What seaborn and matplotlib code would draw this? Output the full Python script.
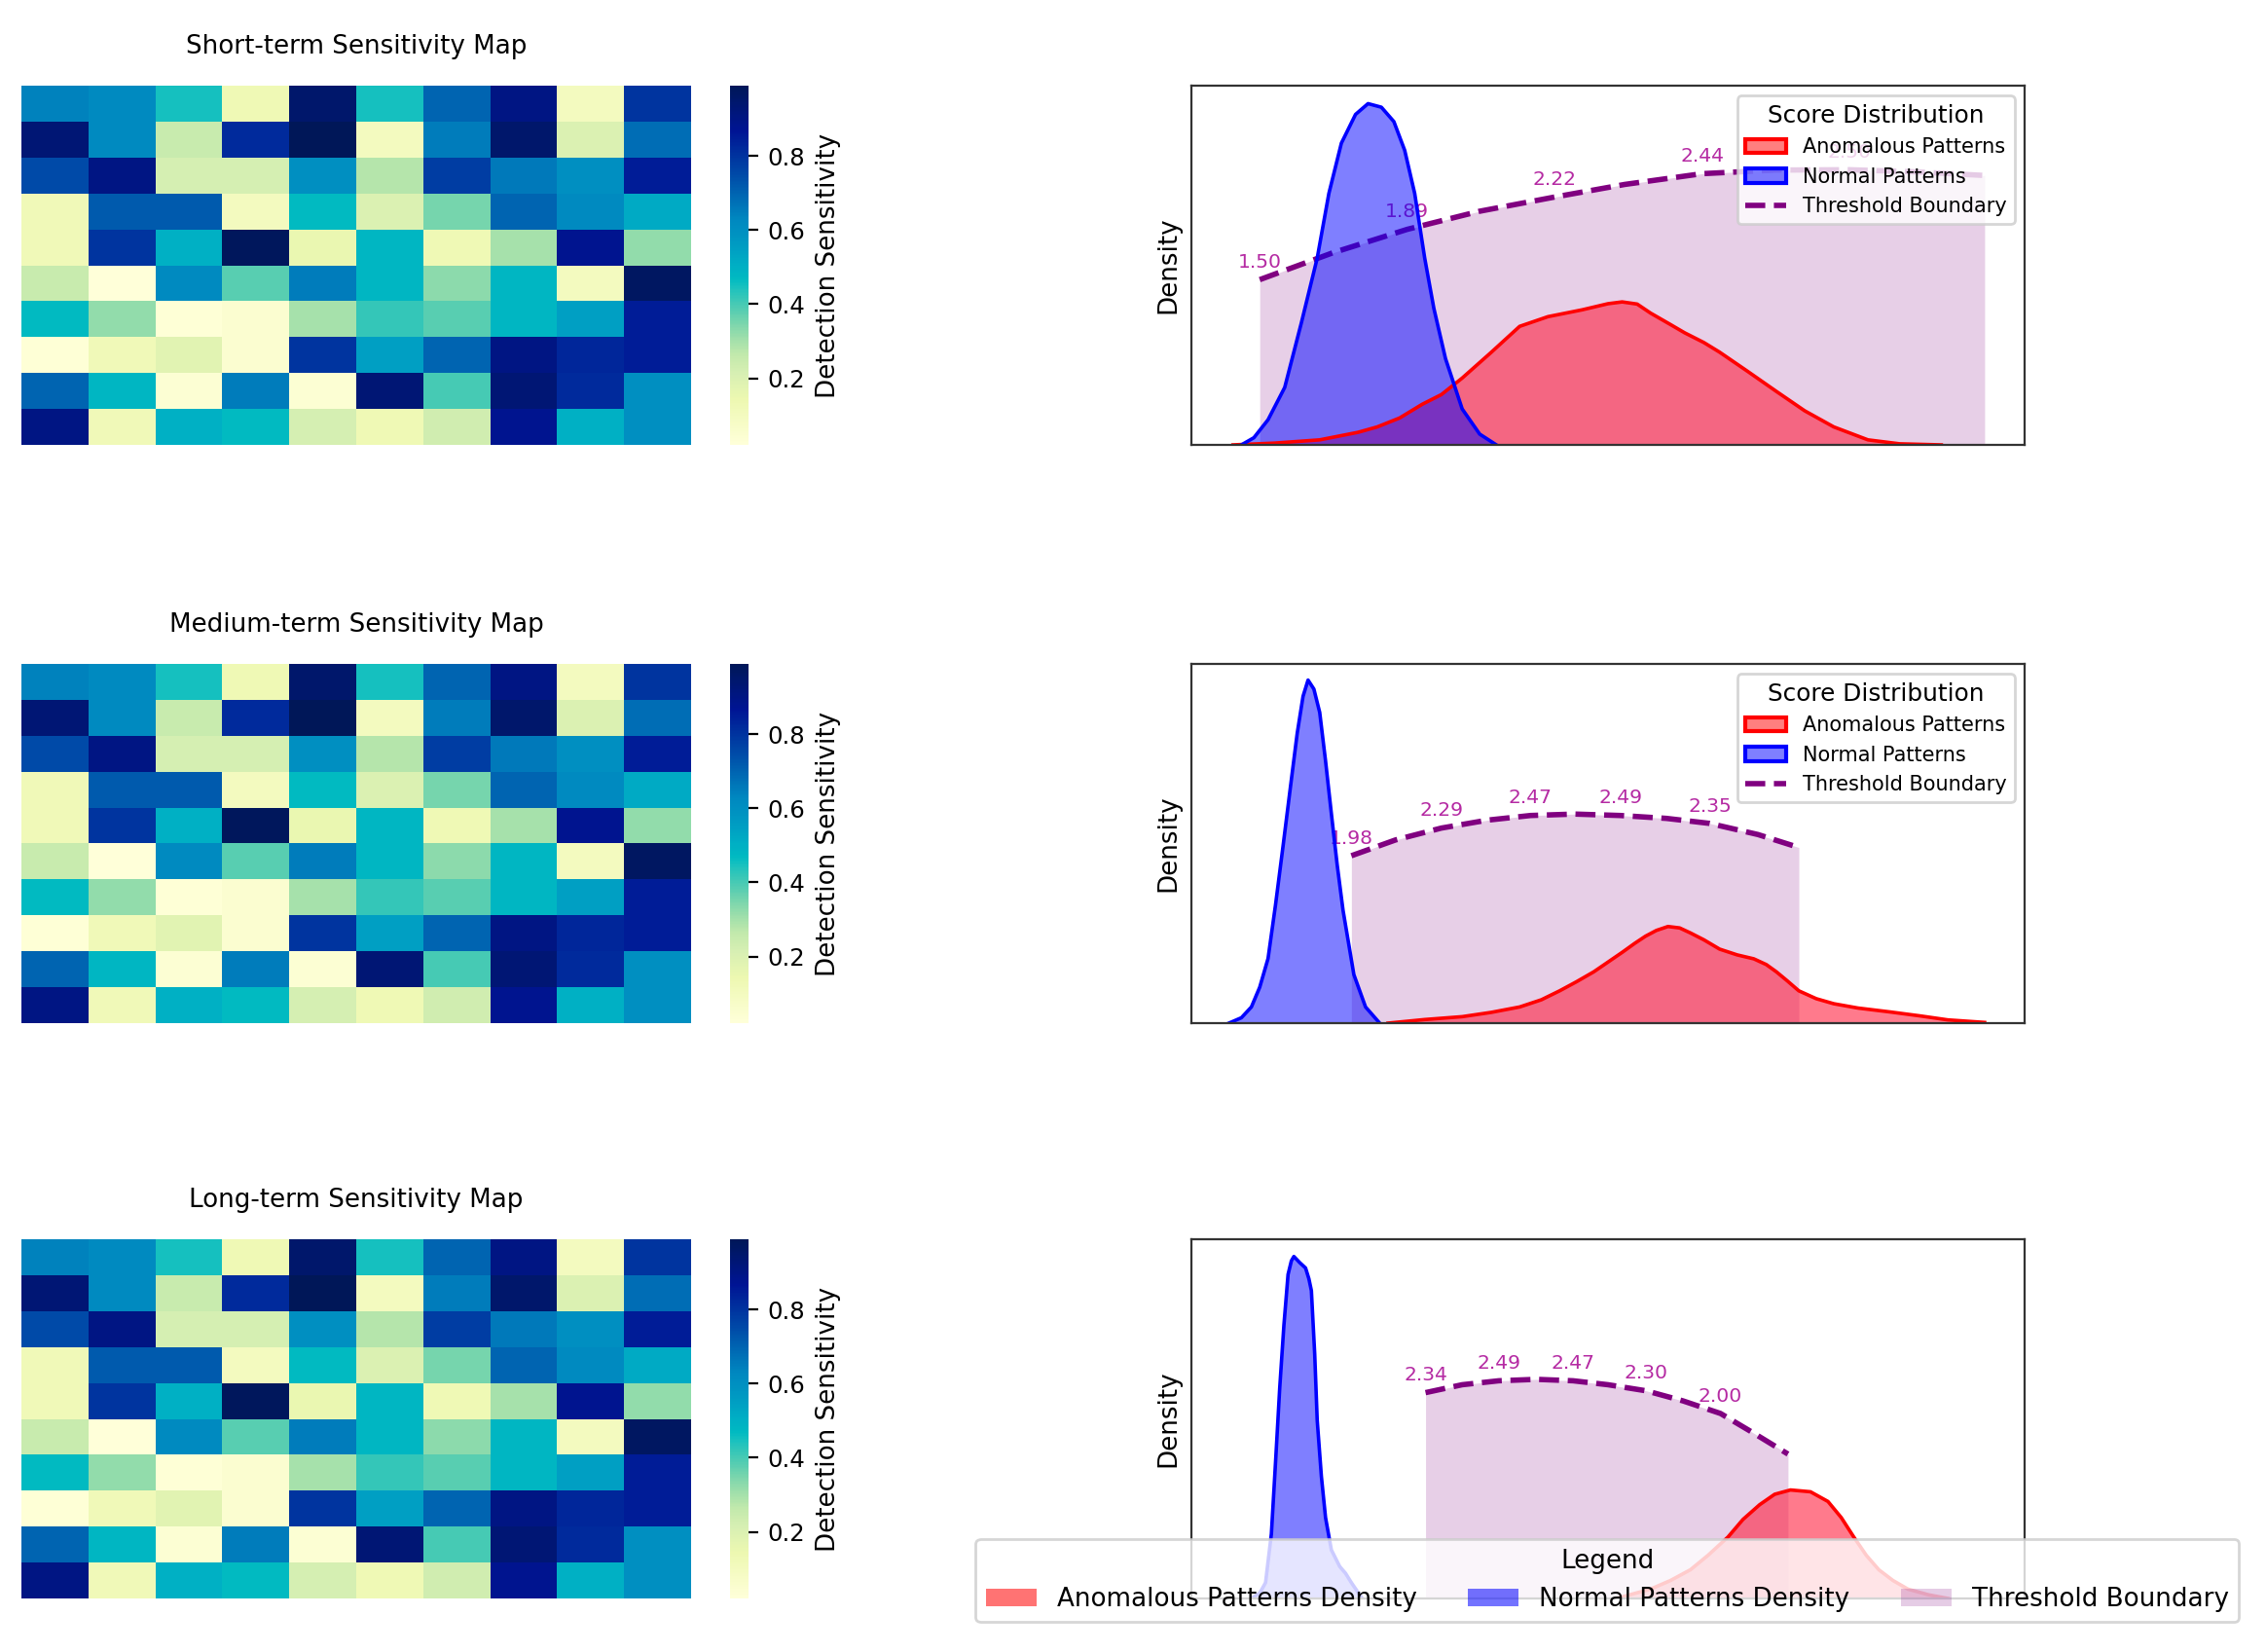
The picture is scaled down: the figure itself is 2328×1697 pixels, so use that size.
import matplotlib
matplotlib.use("Agg")
import matplotlib.pyplot as plt
import matplotlib.colors as mcolors
import seaborn as sns
import numpy as np
from matplotlib.patches import Patch
from matplotlib.lines import Line2D

plt.rcParams['font.family'] = ['DejaVu Sans']

# ---------------- data ----------------
map_titles = ["Short-term Sensitivity Map", "Medium-term Sensitivity Map", "Long-term Sensitivity Map"]

sensitivity = [
    [0.64, 0.62, 0.45, 0.13, 0.95, 0.45, 0.70, 0.90, 0.10, 0.80],
    [0.93, 0.62, 0.25, 0.82, 0.99, 0.10, 0.65, 0.95, 0.20, 0.68],
    [0.75, 0.90, 0.22, 0.22, 0.60, 0.28, 0.78, 0.66, 0.60, 0.85],
    [0.12, 0.72, 0.72, 0.10, 0.47, 0.20, 0.35, 0.70, 0.62, 0.52],
    [0.12, 0.80, 0.50, 0.98, 0.15, 0.48, 0.13, 0.30, 0.88, 0.32],
    [0.25, 0.02, 0.62, 0.38, 0.65, 0.48, 0.33, 0.48, 0.10, 0.97],
    [0.47, 0.32, 0.03, 0.05, 0.30, 0.42, 0.38, 0.48, 0.55, 0.85],
    [0.03, 0.12, 0.18, 0.05, 0.80, 0.55, 0.70, 0.90, 0.83, 0.85],
    [0.70, 0.48, 0.04, 0.65, 0.04, 0.93, 0.40, 0.93, 0.82, 0.60],
    [0.90, 0.12, 0.50, 0.47, 0.22, 0.13, 0.23, 0.88, 0.50, 0.60],
]

# Score-density curves (score axis and density)
normal_x = [
    [0.060, 0.075, 0.092, 0.112, 0.132, 0.151, 0.165, 0.180, 0.197, 0.212, 0.228, 0.243,
     0.256, 0.268, 0.280, 0.291, 0.305, 0.325, 0.346, 0.366],
    [0.045, 0.060, 0.072, 0.082, 0.092, 0.101, 0.110, 0.119, 0.127, 0.134, 0.140, 0.147,
     0.154, 0.161, 0.168, 0.175, 0.182, 0.195, 0.209, 0.226],
    [0.072, 0.082, 0.089, 0.096, 0.101, 0.106, 0.111, 0.116, 0.120, 0.123, 0.130, 0.137,
     0.141, 0.144, 0.148, 0.151, 0.156, 0.161, 0.168, 0.178, 0.185, 0.192, 0.205],
]
normal_y = [
    [0.0, 0.02, 0.07, 0.16, 0.34, 0.52, 0.70, 0.84, 0.92, 0.95, 0.94, 0.90,
     0.82, 0.70, 0.52, 0.38, 0.24, 0.10, 0.03, 0.0],
    [0.0, 0.015, 0.045, 0.10, 0.18, 0.33, 0.493, 0.66, 0.807, 0.91, 0.955, 0.93,
     0.865, 0.73, 0.583, 0.44, 0.314, 0.135, 0.045, 0.0],
    [0.0, 0.015, 0.044, 0.18, 0.38, 0.586, 0.76, 0.902, 0.94, 0.952, 0.935, 0.92,
     0.89, 0.857, 0.68, 0.496, 0.34, 0.225, 0.135, 0.089, 0.07, 0.044, 0.0],
]
anomalous_x = [
    [0.05, 0.10, 0.154, 0.20, 0.223, 0.25, 0.277, 0.30, 0.325, 0.36, 0.394, 0.428, 0.469,
     0.50, 0.517, 0.535, 0.551, 0.575, 0.592, 0.615, 0.634, 0.668, 0.702, 0.736, 0.771,
     0.812, 0.85, 0.90],
    [0.236, 0.28, 0.325, 0.36, 0.394, 0.42, 0.442, 0.462, 0.483, 0.50, 0.517, 0.532, 0.545,
     0.558, 0.572, 0.586, 0.599, 0.615, 0.634, 0.655, 0.675, 0.69, 0.702, 0.715, 0.729,
     0.75, 0.771, 0.80, 0.839, 0.875, 0.908, 0.952],
    [0.51, 0.551, 0.575, 0.599, 0.62, 0.644, 0.662, 0.682, 0.70, 0.719, 0.743, 0.764, 0.78,
     0.795, 0.81, 0.825, 0.842, 0.86, 0.885, 0.908],
]
anomalous_y = [
    [0.0, 0.005, 0.014, 0.035, 0.05, 0.075, 0.113, 0.14, 0.186, 0.258, 0.33, 0.357, 0.376,
     0.393, 0.398, 0.392, 0.367, 0.335, 0.312, 0.285, 0.258, 0.204, 0.149, 0.095, 0.05,
     0.014, 0.003, 0.0],
    [0.0, 0.01, 0.018, 0.03, 0.045, 0.065, 0.09, 0.115, 0.143, 0.17, 0.197, 0.222, 0.242,
     0.258, 0.269, 0.265, 0.251, 0.232, 0.206, 0.19, 0.179, 0.163, 0.143, 0.118, 0.09,
     0.068, 0.054, 0.042, 0.031, 0.02, 0.009, 0.002],
    [0.0, 0.026, 0.05, 0.08, 0.12, 0.171, 0.22, 0.261, 0.29, 0.302, 0.297, 0.27, 0.225,
     0.171, 0.12, 0.08, 0.05, 0.026, 0.01, 0.0],
]
threshold_x = [
    [0.082, 0.17, 0.259, 0.345, 0.436, 0.52, 0.613, 0.70, 0.79, 0.87, 0.952],
    [0.192, 0.245, 0.30, 0.355, 0.407, 0.46, 0.515, 0.57, 0.622, 0.68, 0.729],
    [0.281, 0.325, 0.369, 0.414, 0.458, 0.50, 0.546, 0.59, 0.635, 0.675, 0.716],
]
threshold_y = [
    [0.46, 0.535, 0.60, 0.65, 0.69, 0.725, 0.755, 0.765, 0.766, 0.76, 0.75],
    [0.466, 0.51, 0.543, 0.565, 0.578, 0.582, 0.578, 0.57, 0.556, 0.525, 0.489],
    [0.573, 0.595, 0.606, 0.61, 0.606, 0.595, 0.578, 0.55, 0.515, 0.46, 0.402],
]
threshold_values = [
    [1.50, 1.89, 2.22, 2.44, 2.50],
    [1.98, 2.29, 2.47, 2.49, 2.35],
    [2.34, 2.49, 2.47, 2.30, 2.00],
]

# ---------------- colormap (vivid YlGnBu as in the reference) ----------------
_t = np.linspace(0, 1, 256)
_base = plt.get_cmap("YlGnBu")(_t)[:, :3]
_hsv = mcolors.rgb_to_hsv(_base)
_boost = 1 + 0.75 * np.clip((_t - 0.2) / 0.25, 0, 1)
_hsv[:, 1] = np.clip(_hsv[:, 1] * _boost, 0, 1)
vivid_cmap = mcolors.ListedColormap(mcolors.hsv_to_rgb(_hsv))

# ---------------- figure ----------------
W, H = 2328, 1697
fig = plt.figure(figsize=(W / 200, H / 200), dpi=200)

row_bottoms = [1 - 457 / H, 1 - 1051 / H, 1 - 1642 / H]
row_h = 369 / H

for i in range(3):
    ax = fig.add_axes([22 / W, row_bottoms[i], 688 / W, row_h])
    cax = fig.add_axes([750 / W, row_bottoms[i], 19 / W, row_h])
    sns.heatmap(np.array(sensitivity), cmap=vivid_cmap, ax=ax, cbar_ax=cax,
                xticklabels=False, yticklabels=False,
                cbar_kws={"label": "Detection Sensitivity"})
    ax.set_title(map_titles[i], fontsize=9.4, pad=12)
    ax.tick_params(left=False, bottom=False)
    cax.tick_params(labelsize=8.8)
    cax.yaxis.label.set_size(9.4)
    cax.set_yticks([0.2, 0.4, 0.6, 0.8])

    dax = fig.add_axes([1224 / W, row_bottoms[i], 856 / W, row_h])
    tx, ty = threshold_x[i], threshold_y[i]
    dax.fill_between(tx, 0, ty, color="purple", alpha=0.19, linewidth=0)
    sns.lineplot(x=tx, y=ty, ax=dax, color="purple", linestyle="--", linewidth=2,
                 sort=False, legend=False, zorder=1)
    for k, val in enumerate(threshold_values[i]):
        dax.annotate(f"{val:.2f}", (tx[2 * k], ty[2 * k]), xytext=(0, 3),
                     textcoords="offset points", ha="center", va="bottom",
                     fontsize=7.3, color="#b52aa3", zorder=1)
    ax_, ay_ = anomalous_x[i], anomalous_y[i]
    dax.fill_between(ax_, 0, ay_, color="#ff1a3a", alpha=0.58, linewidth=0)
    sns.lineplot(x=ax_, y=ay_, ax=dax, color="red", linewidth=1.3, sort=False, legend=False)
    nx_, ny_ = normal_x[i], normal_y[i]
    dax.fill_between(nx_, 0, ny_, color="blue", alpha=0.5, linewidth=0)
    sns.lineplot(x=nx_, y=ny_, ax=dax, color="blue", linewidth=1.3, sort=False, legend=False)

    dax.set_xlim(0, 1)
    dax.set_ylim(0, 1)
    dax.set_xticks([])
    dax.set_yticks([])
    dax.set_xlabel("")
    dax.set_ylabel("Density", fontsize=9.4)
    for sp in dax.spines.values():
        sp.set_color("#333333")

    if i < 2:
        handles = [
            Patch(facecolor=(1, 0, 0, 0.5), edgecolor="red", linewidth=1.5, label="Anomalous Patterns"),
            Patch(facecolor=(0, 0, 1, 0.5), edgecolor="blue", linewidth=1.5, label="Normal Patterns"),
            Line2D([0], [0], color="purple", linestyle="--", linewidth=2, label="Threshold Boundary"),
        ]
        dax.legend(handles=handles, title="Score Distribution", loc="upper right",
                   fontsize=7.5, title_fontsize=8.9)

fig_handles = [
    Patch(facecolor="red", alpha=0.55, label="Anomalous Patterns Density"),
    Patch(facecolor="blue", alpha=0.55, label="Normal Patterns Density"),
    Patch(facecolor="purple", alpha=0.2, label="Threshold Boundary"),
]
fig.legend(handles=fig_handles, title="Legend", loc="lower right", ncol=3,
           bbox_to_anchor=(0.988, 0.018), borderaxespad=0, fontsize=9.4,
           title_fontsize=9.4)

fig.savefig("out.png", dpi=200)
